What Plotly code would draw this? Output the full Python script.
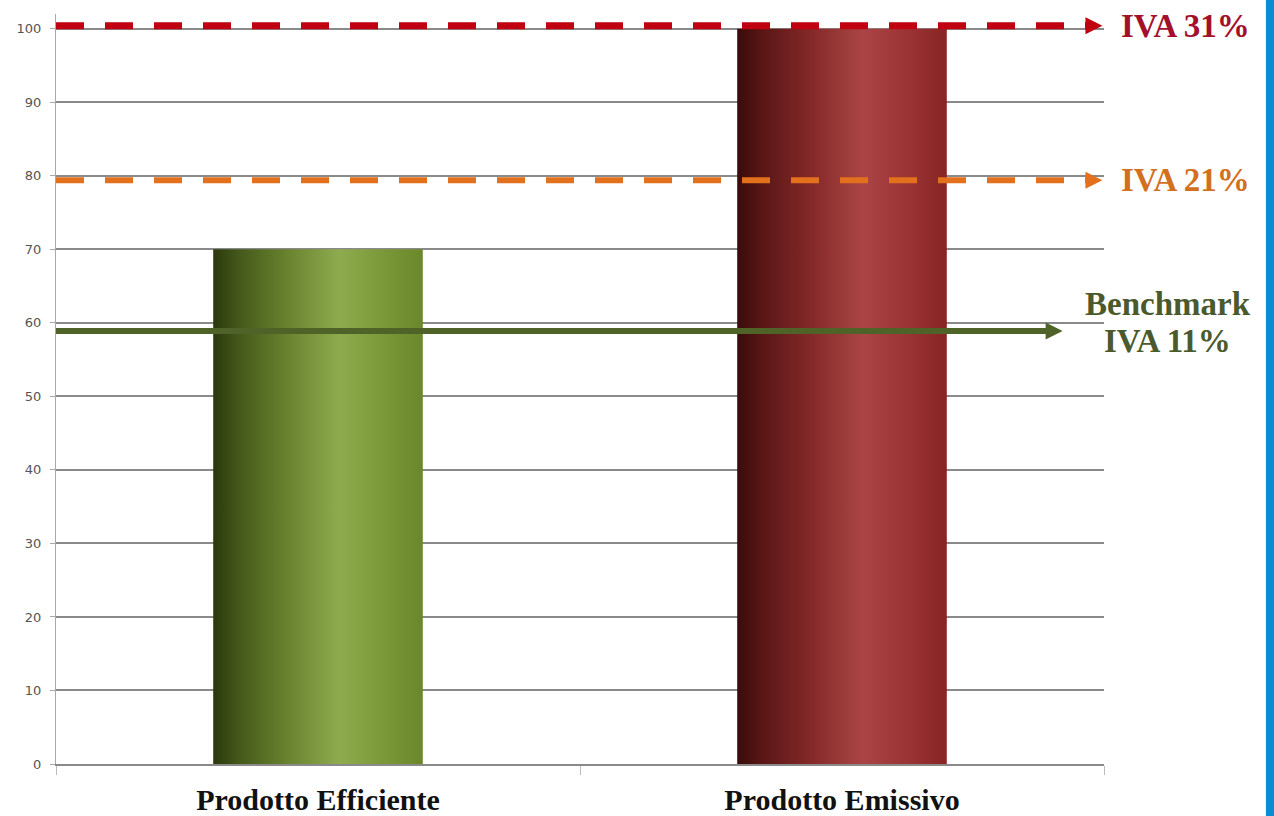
import plotly.graph_objects as go

# Data
categories = ["Prodotto Efficiente", "Prodotto Emissivo"]
values = [70, 100]

ref_labels = ["IVA 31%", "IVA 21%", "Benchmark", "IVA 11%"]
ref_levels = [100.4, 79.4, 58.9]  # IVA 31%, IVA 21%, benchmark IVA 11%

y_ticks = list(range(0, 101, 10))

# Styling
bar_width = 0.4
green_scale = [[0.0, "#2a380c"], [0.12, "#44581a"], [0.35, "#68822e"],
               [0.6, "#8eab4e"], [0.82, "#7b9838"], [1.0, "#6a882a"]]
red_scale = [[0.0, "#3a0b0b"], [0.12, "#5a1616"], [0.35, "#842828"],
             [0.6, "#ab4545"], [0.82, "#9a3434"], [1.0, "#882424"]]
bar_scales = [green_scale, red_scale]

grid_col = "#8a8a8a"
red_col = "#c00010"
orange_col = "#e3701c"
green_col = "#4f6228"

fig = go.Figure()

# Cylinder-like bars: filled rectangles with a horizontal gradient
for i, (cat, v) in enumerate(zip(categories, values)):
    x0, x1 = i - bar_width / 2, i + bar_width / 2
    fig.add_trace(go.Scatter(
        x=[x0, x1, x1, x0, x0], y=[0, 0, v, v, 0],
        mode="lines", line=dict(width=0), fill="toself",
        fillgradient=dict(type="horizontal", colorscale=bar_scales[i]),
        hoverinfo="skip", showlegend=False, name=cat,
    ))

x_left = -0.5
x_tip = [1.497, 1.497, 1.421]
line_cols = [red_col, orange_col, green_col]
dashes = ["28px,21px", "28px,21px", "solid"]
widths = [7, 6, 6]

for lvl, tip, col, dash, w in zip(ref_levels, x_tip, line_cols, dashes, widths):
    fig.add_trace(go.Scatter(
        x=[x_left, tip - 0.025], y=[lvl, lvl], mode="lines",
        line=dict(color=col, width=w, dash=dash),
        hoverinfo="skip", showlegend=False,
    ))
    fig.add_trace(go.Scatter(
        x=[tip], y=[lvl], mode="markers", cliponaxis=False,
        marker=dict(symbol="arrow-right", size=17, color=col,
                    line=dict(width=0)),
        hoverinfo="skip", showlegend=False,
    ))

serif = "Liberation Serif"
label_specs = [
    (ref_labels[0], 1.078, ref_levels[0], "#a3102c"),
    (ref_labels[1], 1.078, ref_levels[1], "#d2701f"),
    (ref_labels[2], 1.061, ref_levels[2] + 3.7, "#4b5a2c"),
    (ref_labels[3], 1.061, ref_levels[2] - 1.4, "#4b5a2c"),
]
for txt, xp, yv, col in label_specs:
    fig.add_annotation(
        text=f"<b>{txt}</b>", xref="paper", x=xp, yref="y", y=yv,
        showarrow=False, xanchor="center", yanchor="middle",
        font=dict(family=serif, size=33, color=col),
    )

# Blue frame strip on the right
fig.add_shape(type="rect", xref="paper", yref="paper",
              x0=1.1545, x1=1.18, y0=-0.2, y1=1.2,
              fillcolor="#0b8bd6", line=dict(width=0), layer="above")

fig.update_layout(
    width=1274, height=816,
    margin=dict(l=56, r=170, t=14, b=52, autoexpand=False),
    paper_bgcolor="white", plot_bgcolor="white",
    showlegend=False,
    xaxis=dict(
        range=[-0.5, 1.5], tickvals=[0, 1], ticktext=categories,
        ticks="", showgrid=False, zeroline=False, automargin=False,
        showline=True, linecolor=grid_col, linewidth=2,
        tickfont=dict(family=serif, size=30, color="#111111", weight="bold"),
        ticklabelstandoff=8,
        minor=dict(tickvals=[-0.5, 0.5, 1.5], ticks="outside", ticklen=9,
                   tickwidth=1, tickcolor="#bdbdbd"),
        fixedrange=True,
    ),
    yaxis=dict(
        range=[0, 102], tickvals=y_ticks, automargin=False,
        showgrid=True, gridcolor=grid_col, gridwidth=1.7,
        zeroline=False, showline=True, linecolor="#a8a8a8", linewidth=1,
        ticks="outside", ticklen=5, tickcolor="#a8a8a8",
        tickfont=dict(family="DejaVu Sans", size=13, color="#555555"),
        ticklabelstandoff=6,
        fixedrange=True,
    ),
)

fig.write_html("out.html")
